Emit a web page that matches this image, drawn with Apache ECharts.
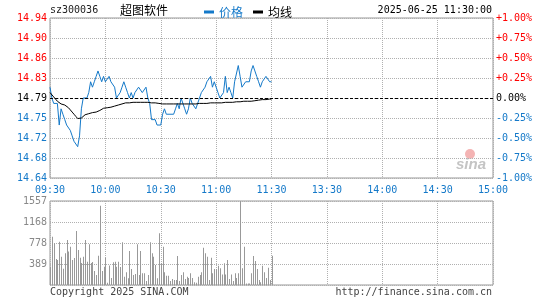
<!DOCTYPE html>
<html>
<head>
<meta charset="utf-8">
<script src="https://cdn.jsdelivr.net/npm/echarts@6/dist/echarts.min.js"></script>
<style>
  html, body { margin: 0; padding: 0; background: #fff; }
  #chart { width: 545px; height: 300px; }
</style>
</head>
<body>
<div id="chart"></div>
<script>
// 基本信息
const stockCode = 'sz300036';
const stockName = '超图软件';
const quoteTime = '2025-06-25 11:30:00';
const prevClose = 14.79;

// 横轴刻度（每30分钟一格）
const timeLabels = ['09:30', '10:00', '10:30', '11:00', '11:30', '13:30', '14:00', '14:30', '15:00'];
// 成交量刻度
const volTickLabels = ['', '389', '778', '1168', '1557'];
const volMax = 1557;

// 分时价格 09:30 - 11:30
const prices = [
  14.81, 14.79, 14.78, 14.78, 14.78, 14.74, 14.77, 14.76, 14.75, 14.74,
  14.74, 14.73, 14.72, 14.71, 14.71, 14.70, 14.72, 14.77, 14.79, 14.79,
  14.79, 14.80, 14.82, 14.81, 14.82, 14.83, 14.84, 14.83, 14.82, 14.83,
  14.82, 14.82, 14.83, 14.82, 14.82, 14.81, 14.79, 14.79, 14.80, 14.81,
  14.82, 14.81, 14.80, 14.79, 14.80, 14.79, 14.80, 14.80, 14.81, 14.81,
  14.80, 14.80, 14.81, 14.79, 14.78, 14.75, 14.75, 14.75, 14.74, 14.74,
  14.74, 14.76, 14.77, 14.76, 14.76, 14.76, 14.76, 14.76, 14.77, 14.78,
  14.77, 14.79, 14.78, 14.77, 14.76, 14.77, 14.79, 14.78, 14.78, 14.77,
  14.78, 14.78, 14.80, 14.80, 14.81, 14.82, 14.82, 14.83, 14.81, 14.82,
  14.82, 14.80, 14.79, 14.79, 14.80, 14.83, 14.80, 14.81, 14.80, 14.79,
  14.82, 14.82, 14.85, 14.83, 14.81, 14.81, 14.82, 14.82, 14.82, 14.84,
  14.85, 14.84, 14.83, 14.82, 14.81, 14.82, 14.82, 14.83, 14.83, 14.82,
  14.82
];

// 均价
const avgPrices = [
  14.800, 14.797, 14.792, 14.788, 14.784, 14.781, 14.779, 14.778, 14.777, 14.775,
  14.772, 14.768, 14.764, 14.760, 14.756, 14.752, 14.751, 14.753, 14.756, 14.759,
  14.760, 14.761, 14.762, 14.763, 14.764, 14.764, 14.765, 14.767, 14.769, 14.771,
  14.772, 14.772, 14.773, 14.773, 14.774, 14.775, 14.776, 14.777, 14.778, 14.779,
  14.780, 14.781, 14.781, 14.781, 14.782, 14.782, 14.782, 14.782, 14.782, 14.782,
  14.782, 14.782, 14.782, 14.782, 14.781, 14.781, 14.781, 14.781, 14.781, 14.780,
  14.779, 14.779, 14.779, 14.779, 14.779, 14.779, 14.779, 14.779, 14.779, 14.779,
  14.779, 14.779, 14.779, 14.779, 14.779, 14.779, 14.779, 14.779, 14.779, 14.779,
  14.780, 14.780, 14.780, 14.780, 14.780, 14.780, 14.781, 14.781, 14.781, 14.781,
  14.781, 14.781, 14.781, 14.781, 14.781, 14.782, 14.782, 14.782, 14.782, 14.782,
  14.783, 14.783, 14.783, 14.783, 14.784, 14.784, 14.784, 14.784, 14.784, 14.784,
  14.785, 14.785, 14.786, 14.786, 14.786, 14.787, 14.787, 14.787, 14.788, 14.788,
  14.788
];

// 成交量（手）
const volumes = [
  340, 895, 775, 480, 465, 800, 525, 300, 590, 835,
  620, 710, 465, 500, 1000, 650, 505, 410, 525, 835,
  430, 755, 410, 425, 260, 185, 540, 1470, 260, 340,
  505, 40, 360, 130, 420, 430, 340, 430, 334, 791,
  154, 235, 124, 630, 297, 185, 204, 754, 185, 630,
  216, 216, 74, 185, 791, 587, 525, 371, 124, 958,
  402, 711, 235, 173, 173, 74, 111, 93, 93, 538,
  74, 185, 235, 111, 155, 130, 216, 130, 50, 40,
  155, 185, 235, 692, 587, 525, 93, 507, 216, 297,
  297, 358, 309, 195, 402, 195, 464, 111, 195, 74,
  216, 130, 216, 1557, 309, 711, 30, 30, 30, 216,
  538, 445, 297, 93, 50, 358, 235, 130, 321, 93,
  540
];

const BLUE = '#1479c9';
const RED = '#ff0000';
const GREY = '#999999';
const MONO = 'DejaVu Sans Mono';
const CJK = 'Noto Sans CJK SC';

const toPct = (p) => (p / prevClose - 1) * 100;

const pctColor = (v) => {
  if (v > 0.001) return RED;
  if (v < -0.001) return BLUE;
  return '#000';
};

const dotted = { color: '#b0b0b0', type: [1, 1], width: 1 };

const chart = echarts.init(document.getElementById('chart'));

// 成交量柱：按像素取整，画成 1px 的实心竖线
const renderVolume = (params, api) => {
  const top = api.coord([api.value(0), api.value(1)]);
  const base = api.coord([api.value(0), 0]);
  const x = Math.round(top[0]);
  return {
    type: 'rect',
    shape: { x: x, y: top[1], width: 1, height: base[1] - top[1] },
    style: { fill: GREY }
  };
};

const option = {
  animation: false,
  backgroundColor: '#fff',
  legend: {
    left: 199,
    top: 1,
    icon: 'rect',
    itemWidth: 10,
    itemHeight: 3,
    itemGap: 10,
    textStyle: { fontFamily: CJK, fontSize: 12 },
    data: [
      { name: '价格', textStyle: { color: BLUE } },
      { name: '均线', textStyle: { color: '#000' } }
    ]
  },
  grid: [
    { left: 50, top: 18, width: 443, height: 160, show: true, borderColor: GREY, borderWidth: 1 },
    { left: 50, top: 201, width: 443, height: 84, show: true, borderColor: GREY, borderWidth: 1 }
  ],
  xAxis: [
    {
      gridIndex: 0, type: 'value', min: 0, max: 240, interval: 30,
      axisLine: { show: false }, axisTick: { show: false },
      axisLabel: {
        color: BLUE, fontFamily: MONO, fontSize: 10, margin: 7,
        formatter: (v) => timeLabels[Math.round(v / 30)] || ''
      },
      splitLine: { show: true, lineStyle: dotted }
    },
    {
      gridIndex: 1, type: 'value', min: 0, max: 240, interval: 30,
      axisLine: { show: false }, axisTick: { show: false },
      axisLabel: { show: false },
      splitLine: { show: true, lineStyle: dotted }
    }
  ],
  yAxis: [
    {
      gridIndex: 0, type: 'value', min: -1, max: 1, interval: 0.25,
      axisLine: { show: false }, axisTick: { show: false },
      axisLabel: {
        fontFamily: MONO, fontSize: 10, margin: 3,
        color: (v) => pctColor(v),
        formatter: (v) => (prevClose * (1 + v / 100)).toFixed(2)
      },
      splitLine: { show: true, lineStyle: dotted }
    },
    {
      gridIndex: 0, type: 'value', position: 'right', min: -1, max: 1, interval: 0.25,
      axisLine: { show: false }, axisTick: { show: false },
      axisLabel: {
        fontFamily: MONO, fontSize: 10, margin: 3,
        color: (v) => pctColor(v),
        formatter: (v) => {
          const r = Math.abs(v) < 0.001 ? 0 : v;
          return (r > 0 ? '+' : '') + r.toFixed(2) + '%';
        }
      },
      splitLine: { show: false }
    },
    {
      gridIndex: 1, type: 'value', min: 0, max: volMax, interval: volMax / 4,
      axisLine: { show: false }, axisTick: { show: false },
      axisLabel: {
        fontFamily: MONO, fontSize: 10, margin: 3, color: '#888',
        formatter: (v) => volTickLabels[Math.round(v / (volMax / 4))] || ''
      },
      splitLine: { show: true, lineStyle: dotted }
    }
  ],
  graphic: [
    { type: 'text', left: 50, top: 5, style: { text: stockCode, font: '10px ' + MONO, fill: '#222' } },
    { type: 'text', left: 120, top: 4, style: { text: stockName, font: '12px ' + CJK, fill: '#000' } },
    { type: 'text', right: 53, top: 5, style: { text: quoteTime, font: '10px ' + MONO, fill: '#000' } },
    { type: 'text', left: 50, top: 287, style: { text: 'Copyright 2025 SINA.COM', font: '10px ' + MONO, fill: '#444' } },
    { type: 'text', right: 53, top: 287, style: { text: 'http://finance.sina.com.cn', font: '10px ' + MONO, fill: '#444' } },
    { type: 'circle', shape: { cx: 470, cy: 154, r: 5 }, style: { fill: '#f4b4b4' }, z: -1 },
    { type: 'text', left: 456, top: 157, style: { text: 'sina', font: 'italic bold 15px Liberation Sans', fill: '#c4c4c4' }, z: -1 }
  ],
  series: [
    {
      name: '价格', type: 'line', xAxisIndex: 0, yAxisIndex: 0,
      showSymbol: false, color: BLUE,
      lineStyle: { color: BLUE, width: 1 },
      data: prices.map((p, i) => [i, toPct(p)]),
      markLine: {
        silent: true, symbol: 'none', label: { show: false },
        lineStyle: { color: '#000', type: [3, 2], width: 1 },
        data: [{ yAxis: 0 }]
      },
      z: 3
    },
    {
      name: '均线', type: 'line', xAxisIndex: 0, yAxisIndex: 0,
      showSymbol: false, color: '#000',
      lineStyle: { color: '#000', width: 1 },
      data: avgPrices.map((p, i) => [i, toPct(p)]),
      z: 4
    },
    {
      name: '成交量', type: 'custom', xAxisIndex: 1, yAxisIndex: 2,
      clip: true,
      renderItem: renderVolume,
      data: volumes.map((v, i) => [i, v])
    }
  ]
};

chart.setOption(option);
</script>
</body>
</html>
